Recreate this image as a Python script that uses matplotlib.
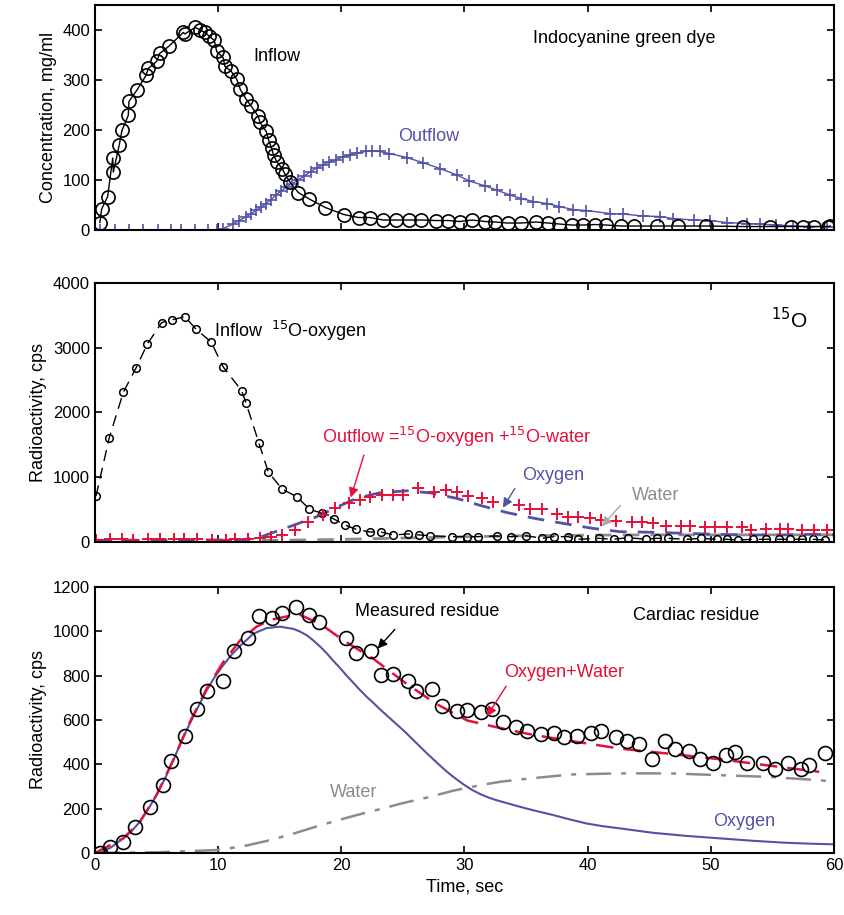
import matplotlib
matplotlib.use("Agg")
import matplotlib.pyplot as plt

plt.rcParams['font.family'] = ['Liberation Sans', 'DejaVu Sans']

PURPLE = '#5252a8'
RED = '#e3103a'
GRAY = '#8c8c8c'

# ---- top panel: indocyanine green dye ----
dye_in_t = [0.4, 0.54, 1.03, 1.44, 1.49, 1.97, 2.19, 2.7, 2.76, 3.41, 4.14, 4.33, 5.0, 5.25,
            5.98, 7.17, 7.3, 8.14, 8.52, 8.93, 9.25, 9.69, 9.88, 10.4, 10.55, 11.04, 11.5,
            11.8, 12.26, 12.7, 13.26, 13.4, 13.9, 14.1, 14.34, 14.5, 14.75, 15.2, 15.4, 15.8,
            16.5, 17.4, 18.7, 20.2, 21.4, 22.3, 23.4, 24.4, 25.5, 26.5, 27.7, 28.7, 29.6,
            30.6, 31.7, 32.5, 33.5, 34.6, 35.8, 36.8, 37.7, 38.7, 39.6, 40.6, 41.5, 42.7,
            43.8, 45.6, 47.3, 49.6, 52.6, 54.8, 56.5, 57.5, 58.4, 59.5, 59.7]
dye_in_c = [15, 42, 67, 144, 116, 170, 199, 229, 257, 280, 309, 323, 337, 353,
            367, 395, 392, 405, 400, 395, 388, 379, 357, 345, 327, 318, 302,
            281, 262, 247, 227, 215, 197, 180, 163, 150, 137, 123, 113, 97,
            75, 62, 45, 31, 25, 25, 20, 20, 20, 20, 19, 19, 17,
            20, 17, 16, 14, 14, 16, 14, 12, 10, 10, 11, 10, 8,
            8, 8, 8, 8, 7, 7, 7, 7, 7, 7, 8]

dye_out_t = [0.4, 1.6, 2.8, 3.9, 5.1, 6.2, 7.0, 8.1, 9.2, 9.9, 10.4, 11.2, 11.7, 12.3, 12.7,
             13.1, 13.5, 13.9, 14.3, 14.7, 15.1, 15.6, 16.0, 16.5, 17.0, 17.5, 18.0, 18.5,
             19.0, 19.6, 20.1, 20.7, 21.3, 22.0, 22.5, 23.1, 23.9, 25.3, 26.6, 28.0, 29.4,
             30.4, 31.7, 32.6, 33.7, 34.6, 35.6, 36.7, 37.7, 38.8, 39.9, 41.8, 42.9, 44.5,
             45.9, 46.9, 48.6, 49.9, 51.3, 52.9, 54.0, 55.3, 56.7, 58.0, 59.4]
dye_out_c = [0, 0, 0, 0, 0, 0, 0, 0, 0, 1, 3, 12, 19, 27, 33,
             40, 46, 53, 61, 70, 78, 87, 93, 100, 108, 117, 124, 130,
             136, 141, 146, 150, 154, 157, 158, 157, 153, 145, 135, 123, 110,
             98, 88, 80, 70, 63, 57, 53, 47, 41, 39, 33, 32, 28,
             27, 23, 20, 19, 15, 13, 12, 10, 8, 7, 7]

# ---- middle panel: 15O ----
o2_in_t = [0.08, 1.16, 2.3, 3.33, 4.25, 5.41, 6.22, 7.3, 8.2, 9.42, 10.4, 11.9, 12.26, 13.3,
           14.07, 15.2, 16.4, 17.4, 18.45, 19.4, 20.3, 21.2, 22.3, 23.2, 24.2, 25.4, 26.3,
           27.2, 28.95, 30.2, 31.1, 32.6, 33.8, 35.0, 36.3, 37.3, 38.4, 39.2, 40.9, 42.1,
           43.3, 44.7, 45.6, 46.5, 48.1, 49.2, 50.5, 51.3, 52.2, 53.4, 54.5, 55.5, 56.4,
           57.4, 58.3, 59.3]
o2_in_r = [707, 1610, 2312, 2687, 3056, 3388, 3430, 3480, 3287, 3091, 2707, 2338, 2149, 1533,
           1081, 815, 697, 508, 441, 354, 261, 195, 154, 154, 108, 123, 108,
           97, 82, 82, 82, 92, 82, 97, 56, 82, 82, 41, 56, 41,
           67, 41, 56, 56, 41, 56, 41, 41, 30, 41, 41, 41, 41,
           41, 41, 30]

out_t = [0.1, 1.2, 2.2, 3.1, 4.3, 5.3, 6.4, 7.2, 8.3, 9.5, 10.6, 11.4, 12.4, 13.4, 14.3,
         15.2, 16.2, 17.3, 18.5, 19.5, 20.6, 21.5, 22.3, 23.3, 24.2, 25.0, 26.2, 27.5, 28.5,
         29.4, 30.3, 31.4, 32.3, 34.4, 35.3, 36.3, 37.5, 38.4, 39.2, 40.2, 41.1, 42.3, 43.6,
         44.4, 45.3, 46.4, 47.6, 48.3, 49.5, 50.3, 51.3, 52.5, 53.3, 54.5, 55.6, 56.3, 57.4,
         58.4, 59.4]
out_r = [31, 40, 45, 35, 40, 46, 38, 45, 40, 35, 30, 40, 45, 60, 70,
         108, 185, 313, 415, 518, 595, 646, 697, 723, 723, 723, 841, 774, 800,
         774, 707, 672, 620, 569, 503, 503, 426, 380, 389, 364, 338, 328, 313,
         313, 297, 246, 246, 246, 226, 226, 226, 226, 185, 195, 195, 195, 185,
         185, 185]

oxy_t = [0, 2, 4, 6, 8, 10, 12, 13.5, 15.8, 18.0, 19.6, 21.2, 23.1, 25.3, 27.2, 29.4, 31.2,
         33.4, 35.7, 38.0, 40.4, 42.6, 45.3, 48.0, 50.5, 52.9, 55.6, 58.3, 60]
oxy_r = [25, 30, 25, 30, 35, 30, 35, 80, 236, 390, 533, 672, 759, 790, 759, 672, 569,
         456, 364, 287, 210, 159, 149, 133, 118, 108, 108, 118, 110]

wat_t = [0, 5, 10, 15, 20, 25, 30, 35, 40, 45, 50, 55, 60]
wat_r = [20, 20, 20, 25, 40, 60, 80, 95, 105, 110, 110, 110, 110]

# ---- bottom panel: cardiac residue ----
res_t = [0.4, 1.2, 2.3, 3.25, 4.46, 5.5, 6.17, 7.3, 8.3, 9.06, 10.36, 11.28, 12.44, 13.34,
         14.34, 15.15, 16.3, 17.37, 18.2, 20.4, 21.2, 22.4, 23.2, 24.2, 25.4, 26.1, 27.4,
         28.2, 29.4, 30.2, 31.3, 32.2, 33.1, 34.2, 35.1, 36.2, 37.3, 38.1, 39.1, 40.3,
         41.1, 42.3, 43.2, 44.2, 45.2, 46.3, 47.1, 48.2, 49.1, 50.2, 51.2, 52.0, 52.9,
         54.2, 55.2, 56.3, 57.3, 58.0, 59.3]
res_v = [1, 26, 51, 116, 208, 306, 414, 526, 651, 729, 778, 910, 970, 1071,
         1060, 1081, 1111, 1075, 1041, 969, 903, 909, 801, 806, 776, 729, 741,
         661, 640, 644, 636, 651, 591, 568, 549, 535, 541, 523, 526, 541,
         549, 523, 505, 490, 422, 505, 471, 459, 422, 404, 444, 456, 404,
         408, 378, 408, 378, 396, 453]

oxyres_t = [0, 0.4, 1.3, 2.3, 3.0, 3.65, 4.3, 5.0, 5.7, 6.36, 7.0, 7.7, 8.4, 9.06, 9.7,
            10.4, 11.1, 11.8, 12.85, 13.9, 15.0, 16.1, 16.6, 17.2, 17.7, 18.3, 18.8, 19.3,
            19.9, 20.4, 21.0, 21.5, 22.05, 22.6, 23.1, 23.7, 24.5, 25.2, 25.8, 26.9, 28.0,
            28.5, 29.1, 29.9, 30.6, 31.3, 32.0, 32.6, 34.0, 35.0, 36.0, 37.2, 38.5, 39.9,
            41.2, 42.6, 45.3, 48.0, 50.7, 53.4, 56.1, 58.0, 60.0]
oxyres_v = [0, 0, 25, 66, 100, 141, 196, 261, 338, 418, 502, 584, 662, 733, 792,
            846, 895, 935, 989, 1014, 1021, 1011, 1000, 982, 960, 930, 902, 870,
            834, 802, 766, 736, 705, 677, 650, 620, 580, 545, 512, 452, 395,
            370, 343, 310, 285, 265, 249, 238, 216, 201, 187, 171, 152, 133,
            121, 111, 91, 77, 66, 55, 46, 42, 39]

watres_t = [0, 5, 9.9, 12, 14, 16, 18, 20, 22, 23.1, 25, 27.2, 29, 31.3, 33, 35.3, 38.6,
            42.6, 46.7, 50.7, 54.8, 58.8, 59.4]
watres_v = [0, 3, 13, 30, 55, 85, 120, 152, 182, 197, 225, 253, 280, 306, 322, 336, 354,
            359, 359, 351, 343, 328, 325]

sumres_t = [0, 2.3, 3.65, 5.0, 6.36, 7.7, 9.06, 10.4, 11.8, 13.1, 14.2, 16.5, 18.3, 20.2,
            22.6, 25.3, 27.7, 30.2, 32.3, 35.0, 37.7, 40.4, 42.6, 46.4, 50.7, 55.6, 58.8]
sumres_v = [0, 66, 141, 262, 420, 590, 740, 860, 960, 1020, 1051, 1078, 1033, 958,
            876, 763, 673, 598, 571, 539, 513, 490, 471, 449, 423, 388, 366]

xticks = [0, 10, 20, 30, 40, 50, 60]

fig = plt.figure(figsize=(8.45, 9.15), dpi=100)
ax1 = fig.add_axes([0.1124, 0.7486, 0.8746, 0.246])
ax2 = fig.add_axes([0.1124, 0.4077, 0.8746, 0.283])
ax3 = fig.add_axes([0.1124, 0.0678, 0.8746, 0.2907])

for ax in (ax1, ax2, ax3):
    ax.set_xlim(0, 60)
    ax.set_xticks(xticks)
    ax.tick_params(direction='in', top=True, right=True, length=5, width=1.2, labelsize=12)
    for s in ax.spines.values():
        s.set_linewidth(1.5)

# top
ax1.plot(dye_out_t, dye_out_c, color=PURPLE, lw=1, marker='+', ms=8, mew=1.2)
ax1.plot(dye_in_t, dye_in_c, color='black', lw=1, marker='o', ms=9.5, mfc='none', mew=1.2)
ax1.set_ylim(0, 450)
ax1.set_yticks([0, 100, 200, 300, 400])
ax1.set_xticklabels([])
ax1.set_ylabel("Concentration, mg/ml", fontsize=13)
ax1.text(12.9, 347, "Inflow", fontsize=13, va='center')
ax1.text(35.6, 383, "Indocyanine green dye", fontsize=13, va='center')
ax1.text(24.6, 187, "Outflow", fontsize=13, va='center', color=PURPLE)

# middle
ax2.plot(wat_t, wat_r, color=GRAY, lw=2, dashes=(6, 4))
ax2.plot(oxy_t, oxy_r, color=PURPLE, lw=2, dashes=(6, 4))
ax2.plot(o2_in_t, o2_in_r, color='black', lw=1, dashes=(8, 5), marker='o', ms=5.5,
         mfc='none', mew=1.1)
ax2.plot(out_t, out_r, ls='none', color=RED, marker='+', ms=9, mew=1.4)
ax2.set_ylim(0, 4000)
ax2.set_yticks([0, 1000, 2000, 3000, 4000])
ax2.set_xticklabels([])
ax2.set_ylabel("Radioactivity, cps", fontsize=13)
ax2.text(9.7, 3260, "Inflow  $^{15}$O-oxygen", fontsize=13, va='center')
ax2.text(54.9, 3440, "$^{15}$O", fontsize=15, va='center')
ax2.text(18.4, 1620, "Outflow =$^{15}$O-oxygen +$^{15}$O-water", fontsize=13,
         va='center', color=RED)
ax2.annotate("", xy=(20.7, 646), xytext=(21.9, 1384),
             arrowprops=dict(arrowstyle='-|>', color=RED, lw=1, mutation_scale=14))
ax2.text(34.7, 1030, "Oxygen", fontsize=13, va='center', color=PURPLE)
ax2.annotate("", xy=(33.0, 492), xytext=(34.2, 861),
             arrowprops=dict(arrowstyle='-|>', color=PURPLE, lw=1, mutation_scale=14))
ax2.text(43.6, 720, "Water", fontsize=13, va='center', color=GRAY)
ax2.annotate("", xy=(41.0, 210), xytext=(42.8, 595),
             arrowprops=dict(arrowstyle='-|>', color='#aaaaaa', lw=1, mutation_scale=14))

# bottom
ax3.plot(watres_t, watres_v, color=GRAY, lw=1.8, dashes=(10, 4, 2, 4))
ax3.plot(oxyres_t, oxyres_v, color=PURPLE, lw=1.5)
ax3.plot(sumres_t, sumres_v, color=RED, lw=1.8, dashes=(7, 4))
ax3.plot(res_t, res_v, ls='none', color='black', marker='o', ms=10, mfc='none', mew=1.2)
ax3.set_ylim(0, 1200)
ax3.set_yticks([0, 200, 400, 600, 800, 1000, 1200])
ax3.set_ylabel("Radioactivity, cps", fontsize=13)
ax3.set_xlabel("Time, sec", fontsize=13)
ax3.text(21.1, 1088, "Measured residue", fontsize=13, va='center')
ax3.annotate("", xy=(22.8, 913), xytext=(24.5, 1018),
             arrowprops=dict(arrowstyle='-|>', color='black', lw=1, mutation_scale=14))
ax3.text(43.7, 1070, "Cardiac residue", fontsize=13, va='center')
ax3.text(33.2, 813, "Oxygen+Water", fontsize=13, va='center', color=RED)
ax3.annotate("", xy=(31.7, 606), xytext=(33.5, 763),
             arrowprops=dict(arrowstyle='-|>', color=RED, lw=1, mutation_scale=14))
ax3.text(19.1, 273, "Water", fontsize=13, va='center', color=GRAY)
ax3.text(50.2, 141, "Oxygen", fontsize=13, va='center', color=PURPLE)

fig.savefig("out.png", dpi=100)
